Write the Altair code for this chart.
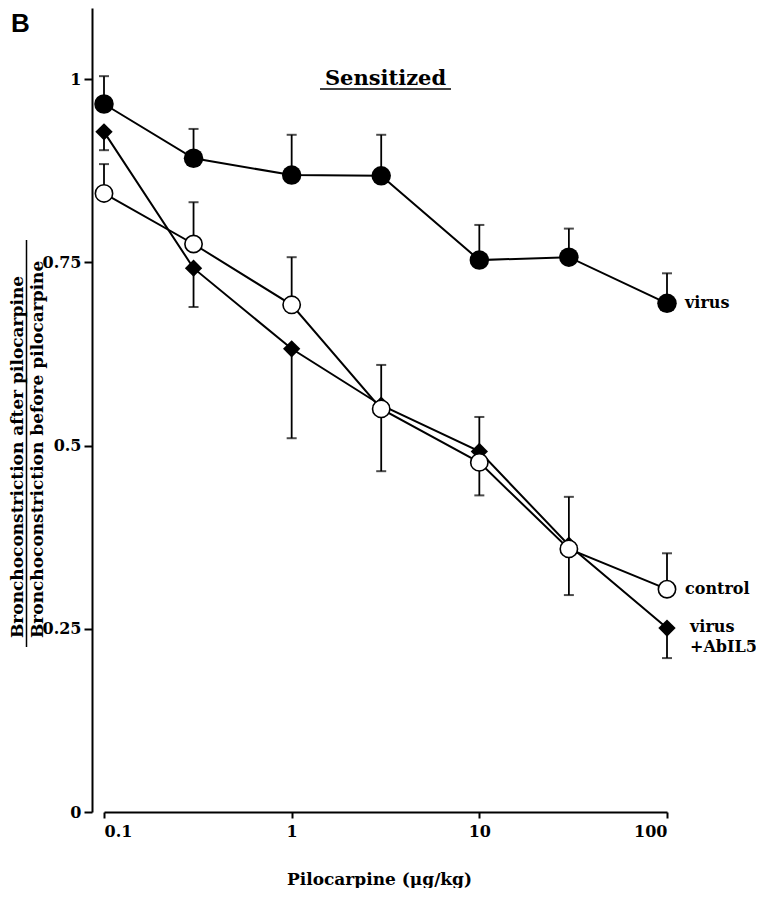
import altair as alt
import pandas as pd

# ---- data ----
doses = [0.1, 0.3, 1, 3, 10, 30, 100]

virus_mean = [0.966, 0.892, 0.869, 0.868, 0.753, 0.757, 0.694]
virus_hi = [1.004, 0.932, 0.924, 0.924, 0.801, 0.796, 0.735]
virus_lo = [0.966, 0.892, 0.869, 0.868, 0.753, 0.757, 0.694]

control_mean = [0.844, 0.775, 0.692, 0.550, 0.477, 0.359, 0.304]
control_hi = [0.884, 0.832, 0.757, 0.610, 0.539, 0.430, 0.353]
control_lo = [0.844, 0.775, 0.692, 0.465, 0.432, 0.296, 0.304]

ab_mean = [0.928, 0.742, 0.632, 0.555, 0.492, 0.364, 0.251]
ab_hi = [0.928, 0.742, 0.632, 0.555, 0.492, 0.364, 0.251]
ab_lo = [0.903, 0.689, 0.510, 0.555, 0.492, 0.364, 0.210]

x_ticks = [0.1, 1, 10, 100]
y_ticks = [0, 0.25, 0.5, 0.75, 1]

series = {
    "virus": (virus_mean, virus_lo, virus_hi),
    "control": (control_mean, control_lo, control_hi),
    "virus+AbIL5": (ab_mean, ab_lo, ab_hi),
}
rows = []
for name, (m, lo, hi) in series.items():
    for d, a, b, c in zip(doses, m, lo, hi):
        rows.append({"series": name, "dose": d, "mean": a, "lo": b, "hi": c})
df = pd.DataFrame(rows)

SERIF = "DejaVu Serif"

x_enc = alt.X("dose:Q",
              scale=alt.Scale(type="log", domain=[0.1, 100], nice=False),
              axis=alt.Axis(values=x_ticks, labelExpr="datum.value + ''",
                            title="Pilocarpine (μg/kg)", titleY=72, titleX=275,
                            titleAlign="center", titleBaseline="alphabetic",
                            titleFont=SERIF, titleFontSize=17, titleFontWeight="bold",
                            titleColor="black",
                            tickSize=6, labelPadding=5, grid=False))
y_enc = alt.Y("mean:Q",
              scale=alt.Scale(domain=[0, 1.097], nice=False, zero=False),
              axis=alt.Axis(values=y_ticks, labelExpr="datum.value + ''",
                            title=None, offset=12, tickSize=8, labelPadding=3,
                            grid=False))

base = alt.Chart(df)

lines = base.mark_line(color="black", strokeWidth=2).encode(
    x=x_enc, y=y_enc, detail="series:N")

err = base.mark_rule(color="black", strokeWidth=1.8).encode(
    x="dose:Q", y="lo:Q", y2="hi:Q")
cap_hi = base.mark_tick(color="black", orient="horizontal", size=10, thickness=2).encode(
    x="dose:Q", y="hi:Q")
cap_lo = base.mark_tick(color="black", orient="horizontal", size=10, thickness=2).encode(
    x="dose:Q", y="lo:Q")

virus_pts = base.transform_filter(alt.datum.series == "virus").mark_point(
    shape="circle", filled=True, color="black", size=380, opacity=1).encode(
    x="dose:Q", y="mean:Q")
ab_pts = base.transform_filter(alt.datum.series == "virus+AbIL5").mark_point(
    shape="diamond", filled=True, color="black", size=300, opacity=1).encode(
    x="dose:Q", y="mean:Q")
ctrl_pts = base.transform_filter(alt.datum.series == "control").mark_point(
    shape="circle", filled=True, fill="white", stroke="black", strokeWidth=1.6,
    size=300, opacity=1).encode(x="dose:Q", y="mean:Q")

# series labels next to the last point
label_df = pd.DataFrame({
    "dose": [100, 100, 100, 100],
    "mean": [virus_mean[-1], control_mean[-1], ab_mean[-1], ab_mean[-1]],
    "text": ["virus", "control", "virus", "+AbIL5"],
    "dx": [18, 18, 23, 23],
    "dy": [0, 0, -1, 19],
})
labels = []
for _, r in label_df.iterrows():
    labels.append(
        alt.Chart(pd.DataFrame([r])).mark_text(
            align="left", baseline="middle", dx=int(r["dx"]), dy=int(r["dy"]),
            font=SERIF, fontSize=16, fontWeight="bold", color="black").encode(
            x="dose:Q", y="mean:Q", text="text:N"))

one = pd.DataFrame({"k": [0]})
title_txt = alt.Chart(one).mark_text(
    align="center", baseline="alphabetic", font=SERIF, fontSize=21,
    fontWeight="bold", color="black").encode(
    x=alt.value(281.5), y=alt.value(77), text=alt.value("Sensitized"))
underline = alt.Chart(one).mark_rule(color="black", strokeWidth=1.5).encode(
    x=alt.value(216), x2=alt.value(347), y=alt.value(81))
panel = alt.Chart(one).mark_text(
    align="left", baseline="alphabetic", font="Liberation Sans", fontSize=26,
    fontWeight="bold", color="black").encode(
    x=alt.value(-93), y=alt.value(24), text=alt.value("B"))
num = alt.Chart(one).mark_text(
    align="left", baseline="alphabetic", angle=270, font=SERIF, fontSize=17,
    fontWeight="bold", color="black").encode(
    x=alt.value(-81), y=alt.value(630),
    text=alt.value("Bronchoconstriction after pilocarpine"))
den = alt.Chart(one).mark_text(
    align="left", baseline="alphabetic", angle=270, font=SERIF, fontSize=17,
    fontWeight="bold", color="black").encode(
    x=alt.value(-61), y=alt.value(630),
    text=alt.value("Bronchoconstriction before pilocarpine"))
bar = alt.Chart(one).mark_rule(color="black", strokeWidth=1.5).encode(
    x=alt.value(-77.5), y=alt.value(232), y2=alt.value(639))

chart = alt.layer(
    lines, err, cap_hi, cap_lo, virus_pts, ab_pts, ctrl_pts, *labels,
    title_txt, underline, panel, num, den, bar
).properties(
    width=563, height=804,
    autosize=alt.AutoSizeParams(type="none"),
    padding={"left": 96, "top": 0, "right": 89, "bottom": 76},
).configure_view(stroke=None).configure_axis(
    domainColor="black", domainWidth=2, tickColor="black", tickWidth=2,
    labelFont=SERIF, labelFontSize=16, labelFontWeight="bold", labelColor="black",
)

chart.save("out.html", embed_options={"renderer": "svg", "actions": False})
